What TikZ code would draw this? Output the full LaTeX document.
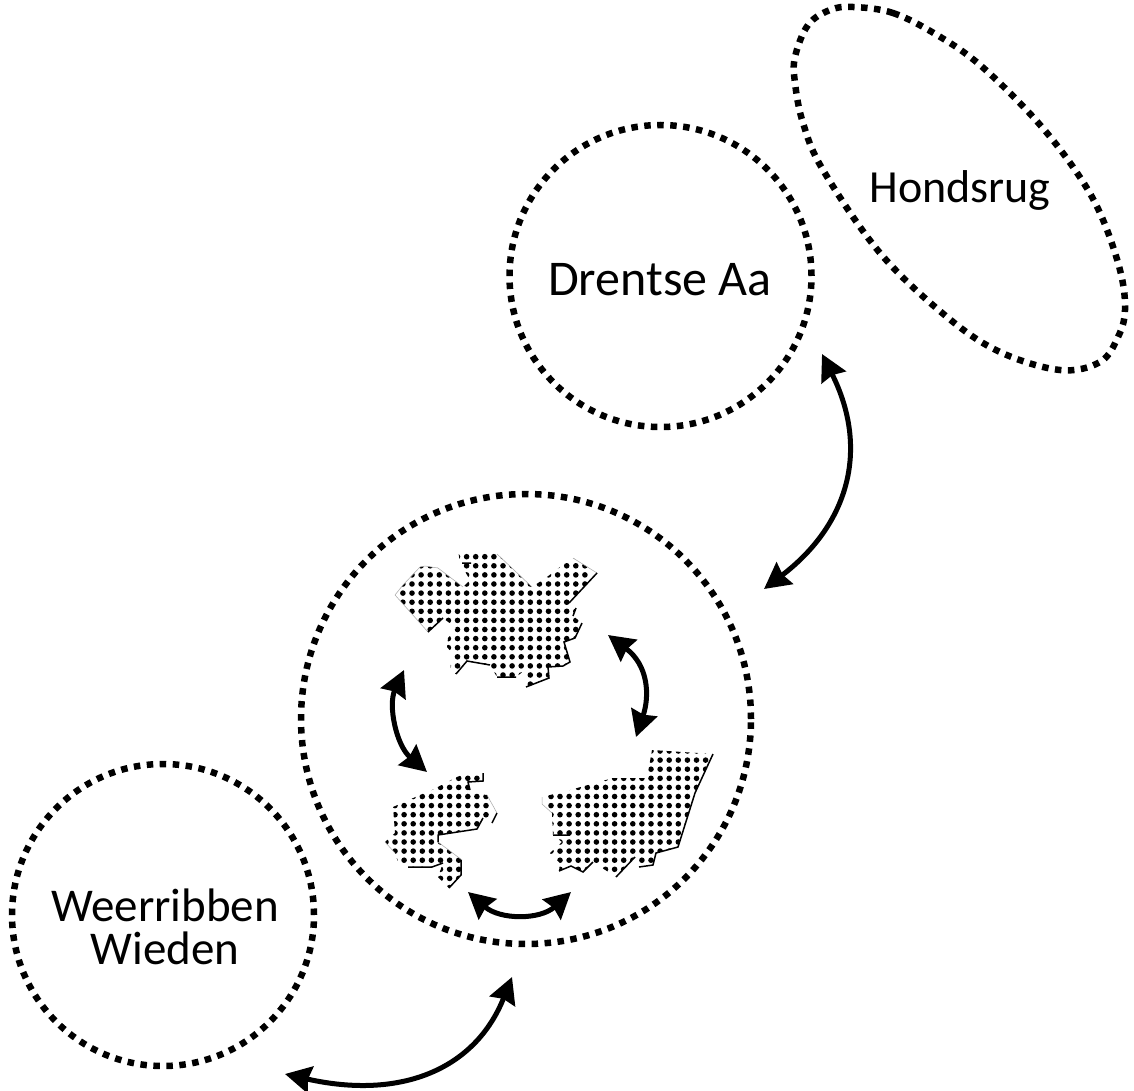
\documentclass[tikz,border=0pt]{standalone}
\usepackage{fontspec}
\setmainfont{Carlito}
\usetikzlibrary{arrows.meta,shapes.geometric}
\tikzset{
  regionline/.style={draw=black,line width=6.5pt,dash pattern=on 6.5pt off 6.5pt},
  region/.style={regionline,inner sep=0pt},
  circ/.style={region,circle},
  lab/.style={align=center,inner sep=0pt},
  link/.style={line width=5pt,{Stealth[length=26pt,width=27pt,inset=2.5pt]}-{Stealth[length=26pt,width=27pt,inset=2.5pt]}},
  outline/.style={draw=black!35,line width=.5pt},
  edge/.style={draw=black,line width=1.5pt}
}
\newcommand{\dotgrid}[4]{% x0,y0,nx,ny
  \foreach \i in {0,...,#3}{\foreach \j in {0,...,#4}{
    \fill[black] ({#1+9.1*\i},{#2+9.1*\j}) circle (2.8pt);}}}
\begin{document}
\begin{tikzpicture}[x=1pt,y=-1pt]
\useasboundingbox (0,0) rectangle (1134,1091);
% regions
\node[circ,minimum size=302pt] (drentse) at (660.5,276) {};
\node[circ,minimum size=450pt] (centre) at (526,719) {};
\node[circ,minimum size=302pt] (weer) at (163,915) {};
\draw[regionline] plot[smooth cycle,tension=.6] coordinates {(853,7) (893,13) (937,35) (980,65) (1033,117) (1073,167) (1100,213) (1120,270) (1125,310) (1118,337) (1100,362) (1060,370) (1000,352) (947,317) (880,253) (823,170) (803,123) (795,83) (795,57) (808,25) (830,10)};
% labels
\node[lab,font=\fontsize{50}{50}\selectfont] (ldrentse) at (660,280) {Drentse Aa};
\node[lab,font=\fontsize{46}{46}\selectfont] (lhonds) at (960,190) {Hondsrug};
\node[lab,font=\fontsize{47}{43}\selectfont] (lweer) at (165,927) {Weerribben\\Wieden};
% top patch
\begin{scope}
\clip (395,595) -- (403,585) -- (420,567) -- (425,566) -- (438,568) -- (463,587) -- (470,580) -- (460,563) -- (458,550) -- (497,554) -- (532,587) -- (547,577) -- (560,567) -- (573,558) -- (597,573) -- (569,603) -- (577,607) -- (573,616) -- (582,623) -- (575,638) -- (564,642) -- (570,662) -- (563,666) -- (548,667) -- (549,678) -- (526,687) -- (525,670) -- (516,677) -- (497,677) -- (490,665) -- (467,661) -- (456,674) -- (450,672) -- (452,653) -- (447,647) -- (448,638) -- (456,628) -- (443,618) -- (428,632) -- cycle;
\dotgrid{412}{556.7}{19}{14}
\dotgrid{402.9}{556.7}{0}{14}
\end{scope}
\draw[outline] (395,595) -- (403,585) -- (420,567) -- (425,566) -- (438,568) -- (463,587);
\draw[outline] (497,554) -- (532,587);
\draw[outline] (395,595) -- (428,632);
\draw[outline] (573,558) -- (597,573);
\draw[edge] (597,573) -- (569,603) (576,608) -- (573,616) (582,623) -- (575,638) -- (564,642) -- (570,662) -- (563,666) -- (548,667) -- (549,678) -- (526,687);
\draw[edge] (516,677) -- (497,677) (490,665) -- (467,661) -- (456,674) (443,618) -- (428,632) (462,563) -- (471,563);
% lower-left patch
\begin{scope}
\clip (385,842) -- (395,833) -- (393,807) -- (420,795) -- (432,790) -- (457,777) -- (467,773) -- (483,773) -- (483,781) -- (468,782) -- (470,793) -- (487,795) -- (497,813) -- (492,823) -- (483,818) -- (477,829) -- (438,835) -- (438,842) -- (462,860) -- (461,875) -- (449,888) -- (438,877) -- (443,863) -- (432,867) -- (408,867) -- (398,862) -- (395,853) -- cycle;
\dotgrid{395}{778.3}{10}{12}
\dotgrid{386}{778.3}{0}{12}
\end{scope}
\draw[outline] (385,842) -- (395,853) (487,795) -- (497,813) (438,842) -- (462,860);
\draw[edge] (497,813) -- (492,823) (483,818) -- (477,829) -- (438,835) -- (438,842) (461,860) -- (461,875) -- (449,888) (443,863) -- (432,867) -- (408,867) (483,773) -- (483,781) -- (468,782) -- (470,790);
% right patch
\begin{scope}
\clip (542,797) -- (570,790) -- (613,778) -- (647,778) -- (652,750) -- (713,754) -- (695,793) -- (678,847) -- (656,853) -- (653,865) -- (639,867) -- (635,857) -- (616,877) -- (593,862) -- (583,872) -- (571,866) -- (559,871) -- (560,863) -- (550,853) -- (562,842) -- (553,835) -- (552,813) -- (542,804) -- cycle;
\dotgrid{560}{751}{17}{13}
\dotgrid{551}{751}{0}{13}
\end{scope}
\draw[outline] (542,797) -- (542,804) -- (552,813);
\draw[edge] (713,754) -- (695,793) -- (678,847) -- (656,853) -- (653,865) -- (639,867) (635,857) -- (616,877) (593,862) -- (583,872) -- (571,866) -- (559,871) (553,835) -- (570,835);
% connectors
\coordinate (a1) at (822,354); \coordinate (a2) at (764,589);
\draw[link] (a1) .. controls (870,450) and (848,525) .. (a2);
\coordinate (b1) at (512,977); \coordinate (b2) at (285,1074);
\draw[link] (b1) .. controls (475,1070) and (400,1100) .. (b2);
\coordinate (c1) at (608,635); \coordinate (c2) at (636,737);
\draw[link] (c1) .. controls (648,665) and (650,695) .. (c2);
\coordinate (d1) at (404,670); \coordinate (d2) at (427,772);
\draw[link] (d1) .. controls (388,705) and (396,745) .. (d2);
\coordinate (e1) at (468,892); \coordinate (e2) at (571,892);
\draw[link] (e1) .. controls (500,920) and (540,920) .. (e2);
\end{tikzpicture}
\end{document}
